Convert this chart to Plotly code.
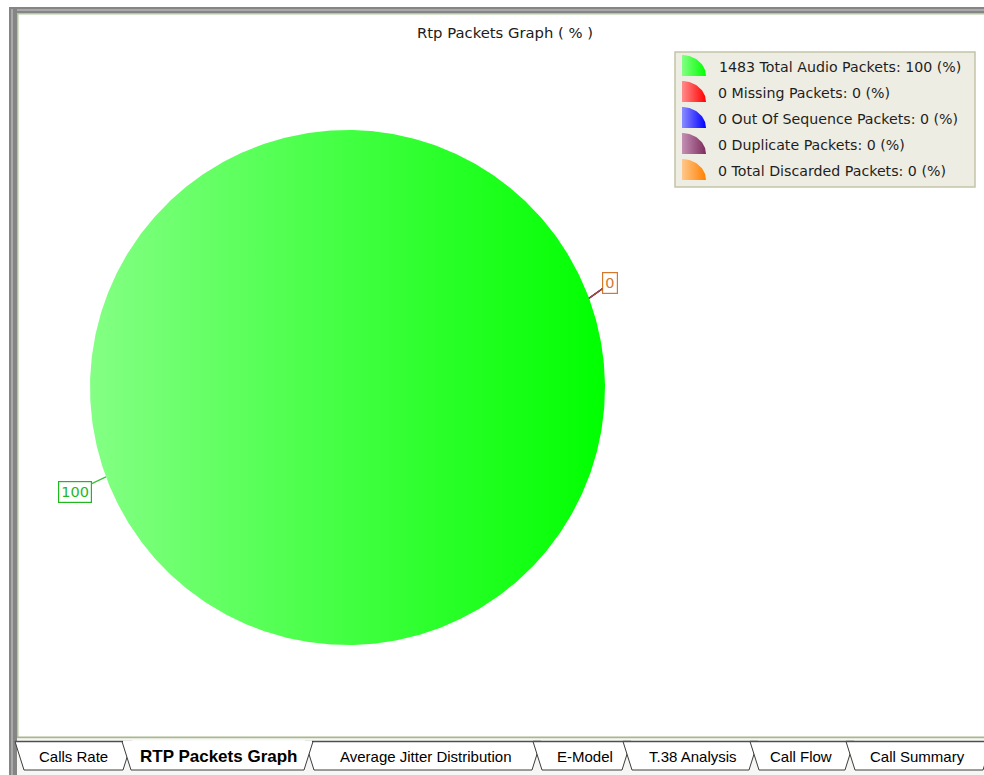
import math
import plotly.graph_objects as go

# ---- data -------------------------------------------------------------
categories = ["Total Audio Packets", "Missing Packets", "Out Of Sequence Packets",
              "Duplicate Packets", "Total Discarded Packets"]
packet_counts = [1483, 0, 0, 0, 0]
percentages = [100, 0, 0, 0, 0]
tab_labels = ["Calls Rate", "RTP Packets Graph", "Average Jitter Distribution",
              "E-Model", "T.38 Analysis", "Call Flow", "Call Summary"]
selected_tab = "RTP Packets Graph"

# ---- styling ----------------------------------------------------------
light_colors = ["#84ff84", "#ff8c8c", "#8c8cff", "#c490b4", "#ffc88c"]
dark_colors = ["#00ff00", "#ff0000", "#0000ff", "#7c2c5c", "#ff8000"]
label_colors = ["#1fb81f", "#d02020", "#2020d0", "#904070", "#d4782c"]
leader_colors = ["#3cc03c", "#b02020", "#2020b0", "#803060", "#a84c2c"]

W, H = 984, 775
CX, CY, R = 347.5, 387.5, 257.5          # pie centre / radius in pixels
START_DEG = 20.3                          # angle of the first slice boundary

X0 = -CX / R
X1 = X0 + W / R
YT = CY / R
YB = YT - H / R


def dx(p):
    return X0 + p / R


def dy(p):
    return YT - p / R


fig = go.Figure()

# ---- pie wedges drawn as gradient-filled polygons --------------------
total = sum(percentages)
cum = 0.0
mid_angles = []
for name, pct, lc, dc in zip(categories, percentages, light_colors, dark_colors):
    a0 = START_DEG - 360.0 * cum / total
    a1 = START_DEG - 360.0 * (cum + pct) / total
    cum += pct
    mid_angles.append((a0 + a1) / 2.0)
    n = max(2, int(abs(a1 - a0) * 2))
    xs, ys = [0.0], [0.0]
    for i in range(n + 1):
        t = math.radians(a0 + (a1 - a0) * i / n)
        xs.append(math.cos(t))
        ys.append(math.sin(t))
    xs.append(0.0)
    ys.append(0.0)
    fig.add_trace(go.Scatter(
        x=xs, y=ys, mode="lines", fill="toself", name=name,
        line=dict(width=0, color=dc),
        fillgradient=dict(type="horizontal",
                          colorscale=[[0, lc], [1, dc]]),
        hoverinfo="skip", showlegend=False))

# ---- slice labels with leader lines -----------------------------------
annotations = []
lead = 14
for ang, pct, col, lcol in zip(mid_angles, percentages, label_colors, leader_colors):
    t = math.radians(ang)
    c, s = math.cos(t), math.sin(t)
    txt = f"{pct:g}"
    hw = len(txt) * 5 + 3
    hh = 10
    ax = lead * c + (hw if c >= 0 else -hw)
    ay = -lead * s + (-hh if s >= 0 else hh)
    annotations.append(dict(
        x=c, y=s, xref="x", yref="y", text=txt, showarrow=True,
        ax=ax, ay=ay, arrowhead=0, arrowwidth=1.3, arrowcolor=lcol,
        standoff=0, font=dict(family="DejaVu Sans", size=14.5, color=col),
        bordercolor=col, borderwidth=1.2, borderpad=2, bgcolor="white"))

# ---- title ------------------------------------------------------------
annotations.append(dict(
    x=dx(505), y=dy(32), xref="x", yref="y", showarrow=False,
    text="Rtp Packets Graph ( % )",
    font=dict(family="DejaVu Sans", size=14.8, color="#202020")))

shapes = []

# ---- legend box (under the icon traces) --------------------------------
shapes.append(dict(type="rect", xref="x", yref="y",
                   x0=dx(675), x1=dx(975), y0=dy(52), y1=dy(187),
                   fillcolor="#eeede3", line=dict(color="#c4c4a8", width=1.5),
                   layer="below"))
row0, row_step = 66, 26
for i, (name, cnt, pct, lc, dc) in enumerate(
        zip(categories, packet_counts, percentages, light_colors, dark_colors)):
    yc = row0 + i * row_step
    bx, by = 682, yc + 10
    rx, ry = 24, 21
    xs, ys = [dx(bx)], [dy(by)]
    for k in range(31):
        t = math.radians(90 - 90 * k / 30)
        xs.append(dx(bx + rx * math.cos(t)))
        ys.append(dy(by - ry * math.sin(t)))
    xs.append(dx(bx))
    ys.append(dy(by))
    fig.add_trace(go.Scatter(
        x=xs, y=ys, mode="lines", fill="toself", line=dict(width=0, color=dc),
        fillgradient=dict(type="horizontal", colorscale=[[0, lc], [1, dc]]),
        hoverinfo="skip", showlegend=False))
    annotations.append(dict(
        x=dx(716 if i else 717), y=dy(yc + 1), xref="x", yref="y", xanchor="left",
        showarrow=False, text=f"{cnt} {name}: {pct:g} (%)",
        font=dict(family="DejaVu Sans", size=14.2, color="#1e1e1e")))

# ---- window frame -----------------------------------------------------
shapes += [
    dict(type="rect", xref="x", yref="y", x0=dx(9), x1=dx(W), y0=dy(7), y1=dy(13),
         fillcolor="#858585", line=dict(width=0), layer="above"),
    dict(type="rect", xref="x", yref="y", x0=dx(11), x1=dx(W), y0=dy(9), y1=dy(11),
         fillcolor="#a9a9a9", line=dict(width=0), layer="above"),
    dict(type="rect", xref="x", yref="y", x0=dx(9), x1=dx(17), y0=dy(7), y1=dy(H),
         fillcolor="#858585", line=dict(width=0), layer="above"),
    dict(type="rect", xref="x", yref="y", x0=dx(11), x1=dx(13), y0=dy(9), y1=dy(H),
         fillcolor="#a9a9a9", line=dict(width=0), layer="above"),
    dict(type="rect", xref="x", yref="y", x0=dx(17), x1=dx(W), y0=dy(13), y1=dy(14.5),
         fillcolor="#b2c89c", line=dict(width=0), layer="above"),
    dict(type="rect", xref="x", yref="y", x0=dx(17), x1=dx(18.5), y0=dy(13), y1=dy(738),
         fillcolor="#b2c89c", line=dict(width=0), layer="above"),
    dict(type="rect", xref="x", yref="y", x0=dx(17), x1=dx(W), y0=dy(736.5), y1=dy(738.5),
         fillcolor="#a8b88e", line=dict(width=0), layer="above"),
    dict(type="rect", xref="x", yref="y", x0=dx(17), x1=dx(W), y0=dy(738.5), y1=dy(H),
         fillcolor="#f6f6f4", line=dict(width=0), layer="above"),
]

# ---- sheet tabs -------------------------------------------------------
tab_edges = [(15, 132), (122, 313), (305, 541), (533, 631),
             (623, 758), (750, 854), (846, 992)]
tab_centers = [73, 218, 425, 585, 693, 801, 917]
ty0, ty1, slant = 741.5, 770, 9
order = [i for i, t in enumerate(tab_labels) if t != selected_tab] + \
        [tab_labels.index(selected_tab)]
for i in order:
    xl, xr = tab_edges[i]
    path = (f"M {dx(xl)},{dy(ty0)} L {dx(xl + slant)},{dy(ty1)} "
            f"L {dx(xr - slant)},{dy(ty1)} L {dx(xr)},{dy(ty0)} Z")
    sel = tab_labels[i] == selected_tab
    shapes.append(dict(type="path", xref="x", yref="y", path=path,
                       fillcolor="white", line=dict(color="#3c3c3c", width=1),
                       layer="above"))
    if sel:
        shapes.append(dict(type="line", xref="x", yref="y",
                           x0=dx(xl + 1), x1=dx(xr - 1), y0=dy(ty0), y1=dy(ty0),
                           line=dict(color="white", width=2), layer="above"))
    else:
        shapes.append(dict(type="line", xref="x", yref="y",
                           x0=dx(xl), x1=dx(xr), y0=dy(ty0), y1=dy(ty0),
                           line=dict(color="#505050", width=1.5), layer="above"))
    annotations.append(dict(
        x=dx(tab_centers[i]), y=dy(756), xref="x", yref="y", showarrow=False,
        text=f"<b>{tab_labels[i]}</b>" if sel else tab_labels[i],
        font=dict(family="Liberation Sans", size=17 if sel else 15,
                  color="#000000")))

fig.update_layout(
    width=W, height=H, margin=dict(l=0, r=0, t=0, b=0),
    paper_bgcolor="white", plot_bgcolor="white",
    xaxis=dict(range=[X0, X1], visible=False, fixedrange=True),
    yaxis=dict(range=[YB, YT], visible=False, fixedrange=True),
    shapes=shapes, annotations=annotations, showlegend=False)

fig.write_html("out.html")
